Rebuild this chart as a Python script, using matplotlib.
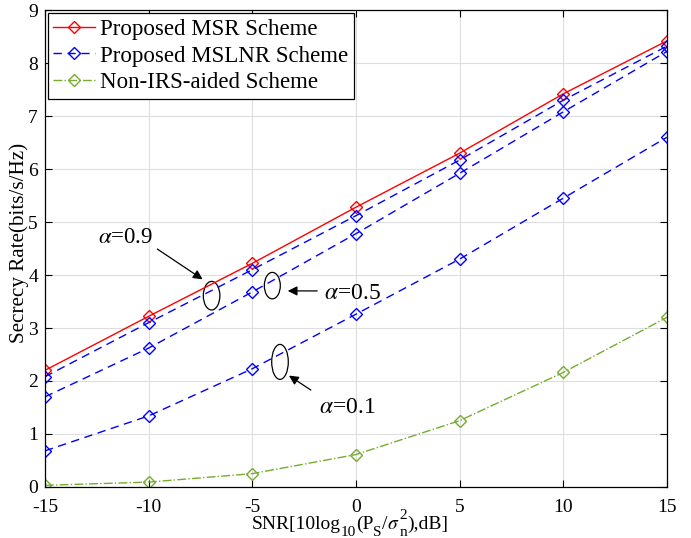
import matplotlib
matplotlib.use("Agg")
import matplotlib.pyplot as plt
from matplotlib.patches import Ellipse

plt.rcParams['font.family'] = ['Liberation Serif', 'DejaVu Serif']
plt.rcParams['mathtext.fontset'] = 'stix'

snr = [-15, -10, -5, 0, 5, 10, 15]
msr = [2.20, 3.22, 4.22, 5.28, 6.30, 7.42, 8.42]
mslnr_09 = [2.08, 3.10, 4.10, 5.12, 6.17, 7.30, 8.32]
mslnr_05 = [1.70, 2.62, 3.68, 4.78, 5.92, 7.08, 8.22]
mslnr_01 = [0.68, 1.34, 2.23, 3.26, 4.30, 5.45, 6.60]
non_irs = [0.03, 0.09, 0.25, 0.61, 1.25, 2.16, 3.20]

xticks = [-15, -10, -5, 0, 5, 10, 15]
yticks = list(range(0, 10))

W, H = 691, 538
fig = plt.figure(figsize=(W / 100, H / 100), dpi=100)
ax = fig.add_axes([0.065, 0.095, 0.90, 0.886])

mk = dict(marker='D', markersize=6, markerfacecolor='none', markeredgewidth=1.0)
ax.plot(snr, msr, '-', color='#FF0000', lw=1.0, label='Proposed MSR Scheme', **mk)
ax.plot(snr, mslnr_09, '--', color='#0000FF', lw=1.0, dashes=(6, 4), label='Proposed MSLNR Scheme', **mk)
ax.plot(snr, mslnr_05, '--', color='#0000FF', lw=1.0, dashes=(6, 4), **mk)
ax.plot(snr, mslnr_01, '--', color='#0000FF', lw=1.0, dashes=(6, 4), **mk)
ax.plot(snr, non_irs, '-.', color='#77AC30', lw=1.0, label='Non-IRS-aided Scheme', **mk)

ax.set_xlim(-15, 15)
ax.set_ylim(0, 9)
ax.set_xticks(xticks)
ax.set_yticks(yticks)
ax.set_xticklabels([str(v) for v in xticks])
ax.grid(True, color='#dedede', lw=0.8)
ax.set_axisbelow(True)
ax.tick_params(direction='in', top=True, right=True, labelsize=14, length=5)
ax.tick_params(axis='x', pad=9)
ax.tick_params(axis='y', pad=5)
for s in ax.spines.values():
    s.set_linewidth(0.9)

renderer = fig.canvas.get_renderer()

# y label sized so that it spans about 200 px like the reference
ylab = 'Secrecy Rate(bits/s/Hz)'
t = fig.text(0, 0, ylab, fontsize=10)
w10 = t.get_window_extent(renderer).width
t.remove()
yfs = 10 * 200 / w10
ax.set_ylabel(ylab, fontsize=yfs)
ax.yaxis.set_label_coords(-0.0257, 0.512)

leg = ax.legend(loc='upper left', fontsize=16.5, frameon=True, fancybox=False,
                edgecolor='black', framealpha=1, borderaxespad=0.12,
                handlelength=1.8, handletextpad=0.25, labelspacing=0.25, borderpad=0.25)
leg.get_frame().set_linewidth(0.9)

for (cx, cy, w, h) in [(-6.96, 3.61, 0.8, 0.54), (-4.03, 3.80, 0.77, 0.5), (-3.66, 2.36, 0.8, 0.66)]:
    ax.add_patch(Ellipse((cx, cy), w, h, fill=False, ec='black', lw=0.9))

arrow = dict(arrowstyle='-|>', color='black', lw=0.9, mutation_scale=14)
ax.annotate('', xy=(-7.28, 3.89), xytext=(-9.69, 4.52), arrowprops=arrow)
ax.annotate('', xy=(-3.42, 3.70), xytext=(-1.73, 3.70), arrowprops=arrow)
ax.annotate('', xy=(-3.34, 2.13), xytext=(-2.06, 1.80), arrowprops=arrow)

ax.text(-11.1, 4.70, r'$\alpha$=0.9', fontsize=16.5, ha='center', va='center')
ax.text(-1.55, 3.66, r'$\alpha$=0.5', fontsize=17, ha='left', va='center')
ax.text(-1.8, 1.49, r'$\alpha$=0.1', fontsize=17, ha='left', va='center')

# x label composed of pieces (MATLAB-style large sub/superscripts)
fs = 14
sfs = 11
base_y = 1 - 529 / H  # baseline in figure fraction
sub_dy = -7 / H
sup_dy = 10 / H
pieces = [
    ('SNR[10log', fs, 0, False),
    ('10', sfs, sub_dy, False),
    ('(P', fs, 0, False),
    ('S', sfs, sub_dy, False),
    ('/', fs, 0, False),
    (r'$\sigma$', fs, 0, False),
    ('2', sfs, sup_dy, True),
    ('n', sfs, sub_dy, False),
    ('),dB]', fs, 0, False),
]
widths = []
for txt, f, dy, stack in pieces:
    t = fig.text(0, 0, txt, fontsize=f)
    widths.append(t.get_window_extent(renderer).width)
    t.remove()
total = sum(w for w, p in zip(widths, pieces) if not p[3])
cx = 350
x = cx - total / 2
for i, (txt, f, dy, stack) in enumerate(pieces):
    fig.text(x / W, base_y + dy, txt, fontsize=f, ha='left', va='baseline')
    if not stack:
        x += widths[i]

fig.savefig('out.png', dpi=100)
